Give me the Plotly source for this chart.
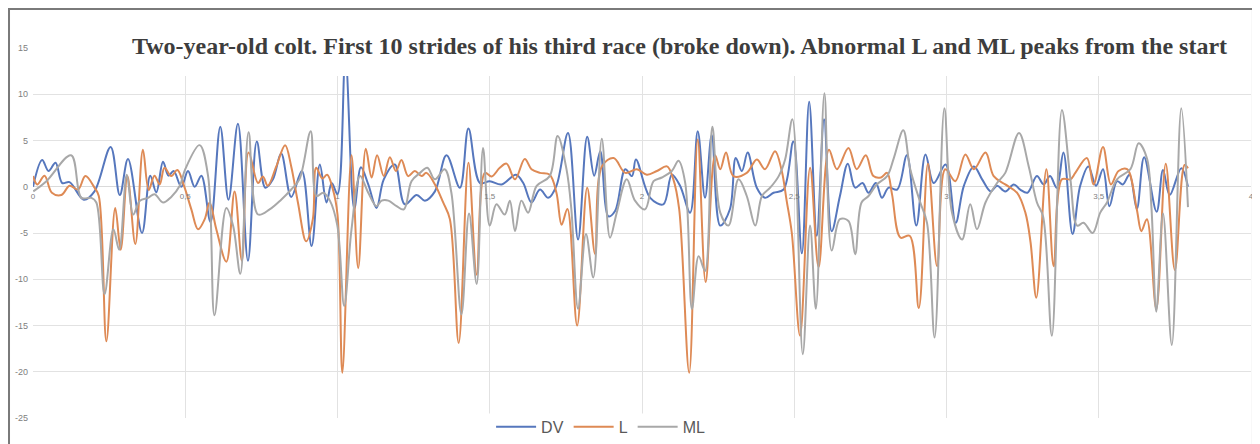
import plotly.graph_objects as go

# ---------------- data ----------------
dv_t = [0.000, 0.030, 0.051, 0.074, 0.096, 0.120, 0.167, 0.202, 0.255, 0.285, 0.312, 0.358, 0.385, 0.405,
        0.427, 0.445, 0.462, 0.487, 0.509, 0.531, 0.553, 0.583, 0.615, 0.642, 0.673, 0.706, 0.735, 0.763,
        0.788, 0.815, 0.848, 0.883, 0.915, 0.942, 0.964, 0.981, 1.000, 1.026, 1.055, 1.077, 1.101, 1.128,
        1.152, 1.188, 1.221, 1.260, 1.287, 1.320, 1.358, 1.402, 1.430, 1.468, 1.500, 1.539, 1.586, 1.610,
        1.637, 1.665, 1.692, 1.719, 1.757, 1.790, 1.820, 1.843, 1.863, 1.890, 1.912, 1.945, 1.967, 1.980,
        2.027, 2.070, 2.098, 2.125, 2.158, 2.183, 2.207, 2.229, 2.257, 2.289, 2.308, 2.328, 2.347, 2.377,
        2.404, 2.432, 2.465, 2.497, 2.525, 2.549, 2.574, 2.598, 2.623, 2.650, 2.676, 2.700, 2.724, 2.744,
        2.768, 2.788, 2.810, 2.838, 2.870, 2.901, 2.931, 2.958, 2.997, 3.030, 3.057, 3.090, 3.117, 3.145,
        3.166, 3.193, 3.221, 3.242, 3.266, 3.297, 3.319, 3.340, 3.362, 3.384, 3.414, 3.439, 3.466, 3.491,
        3.514, 3.535, 3.560, 3.579, 3.601, 3.625, 3.649, 3.690, 3.711, 3.733, 3.771, 3.793]
dv = [0.0, 2.9, 1.7, 2.6, 0.4, 0.5, -1.4, -0.5, 4.3, -0.9, 3.0, -5.0, 1.2, -0.6,
      2.7, 1.2, 1.7, 0.0, 1.7, 0.0, 1.2, -3.8, 6.5, -1.4, 6.8, -8.0, 4.9, -0.1,
      0.8, 3.6, -1.1, 1.7, -6.4, 2.4, -1.7, 0.4, -0.8, 14.0, -2.4, 2.1, 0.25, -2.3,
      0.8, 2.4, -1.9, -0.9, -1.5, -0.5, 3.4, -0.1, 6.3, 0.4, 0.6, 0.25, 1.3, 0.4,
      -1.7, -0.3, -1.2, 0.1, 5.8, -5.7, 5.4, 1.2, 3.85, -3.2, -2.6, 1.9, 1.15, 2.95,
      -1.2, -1.9, 1.3, 0.1, -2.8, 6.0, -1.2, 5.6, -4.2, -2.4, 3.1, 1.7, 3.7, -0.1,
      -1.2, -0.65, -0.3, 4.9, -7.2, 9.2, -5.3, 7.3, -4.8, -1.0, 2.5, -0.1, 0.4, -0.65,
      0.4, -1.2, -0.1, -0.3, 3.4, -4.2, 3.5, 0.4, 2.4, -3.9, 0.1, 2.2, 0.8, -0.5,
      0.1, -0.5, 0.25, -0.3, -0.65, 1.15, 0.25, 1.15, -0.1, 3.7, -5.1, 0.1, 2.2, 0.1,
      1.9, -2.1, 0.6, 0.25, 1.3, -2.4, 3.2, -2.7, 1.8, -0.9, 2.0, 0.0]

l_t = [0.000, 0.014, 0.038, 0.062, 0.093, 0.120, 0.148, 0.172, 0.202, 0.216, 0.241, 0.270, 0.288, 0.310,
       0.336, 0.361, 0.380, 0.399, 0.416, 0.432, 0.454, 0.474, 0.496, 0.520, 0.542, 0.564, 0.580, 0.602,
       0.635, 0.662, 0.686, 0.708, 0.739, 0.755, 0.771, 0.799, 0.828, 0.848, 0.870, 0.897, 0.919, 0.930,
       0.950, 0.966, 0.985, 1.000, 1.016, 1.046, 1.068, 1.093, 1.112, 1.130, 1.152, 1.172, 1.192, 1.210,
       1.232, 1.254, 1.276, 1.292, 1.320, 1.347, 1.369, 1.398, 1.430, 1.457, 1.484, 1.506, 1.533, 1.555,
       1.583, 1.615, 1.637, 1.665, 1.697, 1.719, 1.736, 1.755, 1.787, 1.820, 1.846, 1.868, 1.907, 1.945,
       1.983, 2.016, 2.049, 2.082, 2.103, 2.122, 2.155, 2.183, 2.209, 2.240, 2.257, 2.276, 2.300, 2.344,
       2.377, 2.404, 2.437, 2.459, 2.475, 2.492, 2.519, 2.552, 2.580, 2.614, 2.640, 2.678, 2.705, 2.735,
       2.760, 2.785, 2.805, 2.821, 2.849, 2.879, 2.909, 2.939, 2.969, 2.996, 3.029, 3.062, 3.090, 3.128,
       3.155, 3.193, 3.232, 3.259, 3.276, 3.295, 3.328, 3.352, 3.379, 3.407, 3.423, 3.461, 3.483, 3.514,
       3.540, 3.565, 3.593, 3.625, 3.640, 3.658, 3.689, 3.720, 3.750, 3.782, 3.793]
l = [1.15, 0.25, 1.2, -0.65, -0.9, 0.1, -0.3, 1.15, -0.1, -1.0, -16.7, -2.3, -6.8, 1.15,
     -6.2, 4.0, -0.35, 1.2, 0.25, 2.05, 1.15, 1.8, 0.1, -2.45, -4.6, -3.5, -1.7, -4.6,
     -8.1, -0.5, -8.0, 3.7, 0.4, 1.1, 0.1, 2.2, 4.5, 2.2, -1.7, -5.9, -3.5, 2.05,
     0.9, 1.3, -0.3, -3.0, -20.1, 3.4, -8.8, 4.1, 1.0, 3.4, 1.15, 3.2, 1.7, 2.9,
     1.15, 1.7, 1.15, 1.5, 0.25, -1.7, -3.5, -16.9, 2.6, -9.5, 1.5, 1.1, 2.05, 2.5,
     0.8, 3.0, 1.9, 1.5, 1.3, -0.65, -4.1, -2.4, -15.0, -0.1, -7.3, 2.2, 3.1, 1.5,
     1.9, 1.3, 1.7, 2.2, 0.8, -2.4, -20.1, 5.1, -10.3, 3.4, 1.9, 3.7, 1.15, 1.5,
     2.95, 1.9, 3.85, 1.7, -1.5, -5.0, -16.1, 2.05, -8.7, 4.0, 1.9, 4.2, 1.9, 3.4,
     1.15, 1.0, 1.5, -0.8, -5.5, -5.3, -13.1, 2.5, -8.6, 1.9, 0.6, 3.5, 1.9, 3.7,
     1.15, 0.25, -0.65, -2.8, -6.0, -12.0, 1.9, -8.6, 0.8, 0.8, 1.5, 3.1, 0.25, 4.3,
     0.25, 1.7, 1.9, -2.45, -4.8, -3.5, -13.2, 2.5, -9.0, 2.35, 2.0]

ml_t = [0.001, 0.044, 0.125, 0.159, 0.192, 0.208, 0.235, 0.264, 0.283, 0.308, 0.329, 0.351, 0.378, 0.399,
        0.427, 0.454, 0.482, 0.500, 0.547, 0.575, 0.596, 0.635, 0.657, 0.681, 0.708, 0.739, 0.777, 0.815,
        0.848, 0.875, 0.912, 0.931, 0.953, 0.975, 0.9995, 1.022, 1.046, 1.074, 1.101, 1.128, 1.145, 1.167,
        1.194, 1.218, 1.243, 1.271, 1.295, 1.320, 1.352, 1.374, 1.407, 1.432, 1.457, 1.478, 1.500, 1.522,
        1.549, 1.566, 1.583, 1.604, 1.626, 1.654, 1.697, 1.723, 1.752, 1.768, 1.790, 1.816, 1.840, 1.868,
        1.895, 1.917, 1.950, 1.977, 2.010, 2.038, 2.065, 2.098, 2.120, 2.142, 2.164, 2.186, 2.207, 2.231,
        2.257, 2.284, 2.317, 2.344, 2.372, 2.394, 2.421, 2.449, 2.470, 2.494, 2.528, 2.552, 2.571, 2.599,
        2.623, 2.650, 2.678, 2.700, 2.721, 2.744, 2.771, 2.805, 2.827, 2.858, 2.881, 2.914, 2.936, 2.961,
        2.993, 3.018, 3.051, 3.078, 3.100, 3.128, 3.166, 3.193, 3.238, 3.270, 3.297, 3.317, 3.346, 3.379,
        3.407, 3.429, 3.450, 3.480, 3.505, 3.527, 3.560, 3.604, 3.631, 3.658, 3.673, 3.689, 3.711, 3.740,
        3.771, 3.793]
ml = [-0.5, 0.6, 3.4, -1.2, -1.2, -1.7, -11.6, -4.6, -6.8, 1.3, -3.0, -1.5, -1.2, -0.8,
      -1.7, -1.1, 0.1, 1.9, 4.5, 1.15, -13.9, -2.3, -4.2, -9.4, 5.9, -3.0, -2.45, -1.4,
      -0.3, 0.8, 6.0, -1.0, -0.65, -1.5, -4.2, -12.9, -4.6, 1.15, -0.65, -2.1, -1.5, -1.5,
      -2.1, -2.45, 0.6, 1.5, 2.05, 0.8, 1.9, -0.65, -13.8, -2.9, -10.5, 4.2, -4.2, -1.9,
      -3.0, -1.5, -4.8, -1.5, -2.8, 0.1, 1.15, 5.5, 1.9, -2.45, -13.2, -5.1, -9.8, 5.2,
      -5.5, -2.8, 0.8, -1.5, -2.45, 0.6, 1.0, 1.7, 2.8, 0.4, -13.2, -7.5, -9.1, 6.5,
      -2.8, -4.2, 0.8, -1.0, -4.2, -1.0, -0.1, 1.15, 2.95, 7.3, -18.1, -4.2, -13.2, 10.1,
      -6.9, -3.5, -3.7, -7.3, -1.7, -1.0, 0.25, 1.15, 3.1, 6.1, 1.9, -1.7, -3.9, -16.3,
      8.5, -2.8, -5.7, -1.9, -4.6, -1.7, 0.4, 1.5, 5.8, 2.2, -1.7, -3.2, -16.1, 8.3,
      0.8, -4.2, -3.9, -5.0, -2.8, -1.7, 0.8, 1.9, 4.7, 3.1, -2.2, -13.5, -2.9, -17.1,
      8.5, -2.2]

series_names = ["DV", "L", "ML"]
series_colors = ["#5677BD", "#DE8A55", "#A8A8A8"]

y_tickvals = [15, 10, 5, 0, -5, -10, -15, -20, -25]
y_ticktext = ["15", "10", "5", "0", "-5", "-10", "-15", "-20", "-25"]
x_tickvals = [0, 0.5, 1, 1.5, 2, 2.5, 3, 3.5, 4]
x_ticktext = ["0", "0,5", "1", "1,5", "2", "2,5", "3", "3,5", "4"]

title_text = ("Two-year-old colt. First 10 strides of his third race (broke down). "
              "Abnormal L and ML peaks from the start")

# ---------------- figure ----------------
fig = go.Figure()
for name, xs, ys, col in zip(series_names, [dv_t, l_t, ml_t], [dv, l, ml], series_colors):
    fig.add_trace(go.Scatter(x=xs, y=ys, name=name, mode="lines",
                             line=dict(color=col, width=2, shape="spline", smoothing=1.0)))

fig.update_layout(
    width=1252, height=436, autosize=False,
    margin=dict(l=25, r=9, t=40, b=26, autoexpand=False),
    paper_bgcolor="white", plot_bgcolor="white",
    showlegend=True,
    legend=dict(orientation="h", x=0.466, xanchor="center", y=-0.024, yanchor="middle",
                font=dict(family="Liberation Sans", size=16, color="#595959"),
                bgcolor="rgba(0,0,0,0)", itemwidth=40),
    xaxis=dict(range=[0, 4], tickmode="array", tickvals=x_tickvals, ticktext=x_ticktext,
               anchor="free", position=0.625, showgrid=True, gridcolor="#e2e2e2", gridwidth=1,
               zeroline=False, showline=False, ticks="", automargin=False,
               tickfont=dict(family="Liberation Sans", size=8, color="#808080"),
               ticklabelstandoff=3),
    yaxis=dict(range=[-25, 15], tickmode="array", tickvals=y_tickvals, ticktext=y_ticktext,
               showgrid=True, gridcolor="#e2e2e2", gridwidth=1, automargin=False,
               zeroline=True, zerolinecolor="#dadada", zerolinewidth=1, showline=False, ticks="",
               tickfont=dict(family="Liberation Sans", size=9, color="#808080"),
               ticklabelstandoff=4),
    shapes=[
        # title box (covers the top of the plot area)
        dict(type="rect", xref="paper", yref="paper", x0=0.002, x1=1.0, y0=0.924, y1=1.03,
             fillcolor="white", line=dict(width=0), layer="above"),
        # legend box
        dict(type="rect", xref="paper", yref="paper", x0=0.342, x1=0.598, y0=-0.08, y1=0.012,
             fillcolor="white", line=dict(width=0), layer="above"),
        # outer frame
        dict(type="rect", xref="paper", yref="paper", x0=-0.0197, x1=1.0016, y0=-0.1, y1=1.1054,
             fillcolor="rgba(0,0,0,0)", line=dict(color="#7a7a7a", width=2), layer="above"),
    ],
    annotations=[
        dict(text="<b>" + title_text + "</b>", xref="paper", yref="paper", x=0.531, y=1.0054,
             xanchor="center", yanchor="middle", showarrow=False,
             font=dict(family="Liberation Serif", size=24, color="#3d3d3d")),
    ],
)

fig.write_html("out.html")
